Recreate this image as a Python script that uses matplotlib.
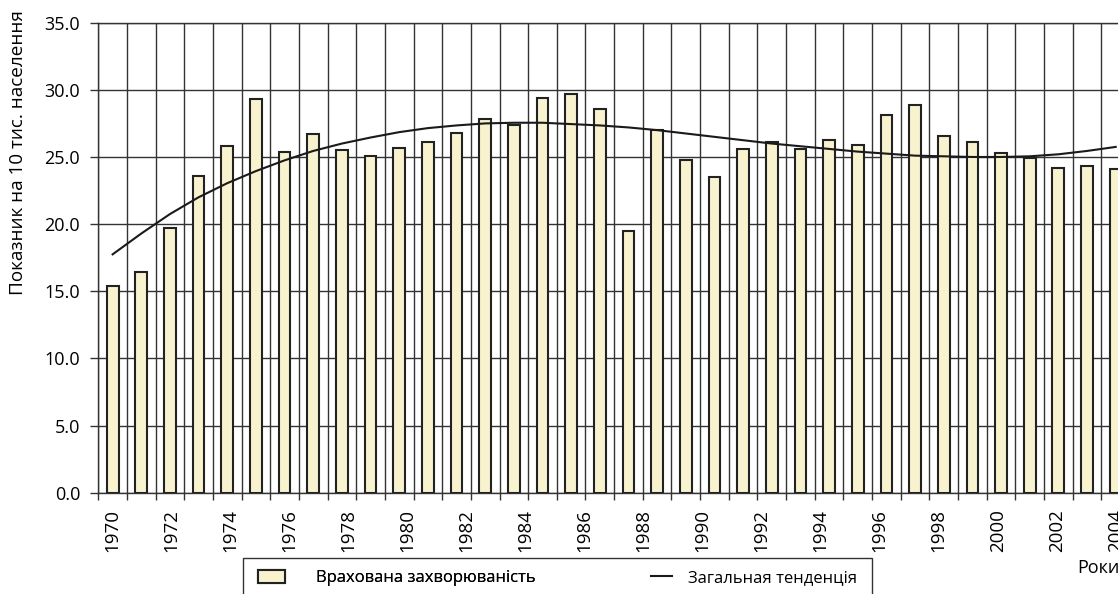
import matplotlib
matplotlib.use("Agg")
import matplotlib.pyplot as plt
import numpy as np
from matplotlib.lines import Line2D
from matplotlib.patches import Patch, Rectangle

plt.rcParams["font.family"] = ["Open Sans", "DejaVu Sans"]

# ---------------------------------------------------------------------------
# Data
# ---------------------------------------------------------------------------
years = list(range(1970, 2006))
incidence = [
    15.4, 16.4, 19.7, 23.6, 25.8, 29.3, 25.4, 26.7, 25.5, 25.1,
    25.7, 26.1, 26.8, 27.8, 27.4, 29.4, 29.7, 28.6, 19.5, 27.0,
    24.8, 23.5, 25.6, 26.1, 25.6, 26.3, 25.9, 28.1, 28.9, 26.6,
    26.1, 25.3, 24.9, 24.2, 24.3, 24.1,
]
trend = [
    17.75, 19.3, 20.75, 22.0, 23.05, 23.95, 24.75, 25.45, 26.0, 26.45,
    26.85, 27.15, 27.35, 27.5, 27.55, 27.55, 27.45, 27.35, 27.2, 27.0,
    26.75, 26.5, 26.25, 26.0, 25.8, 25.6, 25.4, 25.25, 25.1, 25.05,
    25.0, 25.0, 25.05, 25.2, 25.45, 25.75,
]
tick_years = list(range(1970, 2005, 2))
y_ticks = [0, 5, 10, 15, 20, 25, 30, 35]

BAR_LABEL = "Врахована захворюваність"
TREND_LABEL = "Загальная тенденція"
Y_LABEL = "Показник на 10 тис. населення"
X_LABEL = "Роки"

BAR_FILL = "#F8F2CE"
EDGE = "#222222"
GRID = "#333333"

# ---------------------------------------------------------------------------
# Figure
# ---------------------------------------------------------------------------
W, H = 1118, 594
fig = plt.figure(figsize=(W / 100, H / 100), dpi=100)
ax = fig.add_axes([98.3 / W, 1 - 492.7 / H, (1130 - 98.3) / W, (492.7 - 22.7) / H])

x = np.arange(len(years))
ax.bar(x, incidence, width=0.41, color=BAR_FILL, edgecolor=EDGE,
       linewidth=1.5, zorder=3)
ax.plot(x, trend, color="#1a1a1a", linewidth=1.5, zorder=4)

ax.set_xlim(-0.5, len(years) - 0.5)
ax.set_ylim(0, 35)

# y axis
ax.set_yticks(y_ticks)
ax.set_yticklabels([f"{v:.1f}" for v in y_ticks])
ax.tick_params(axis="y", length=6, width=1.0, color=GRID, pad=7, labelsize=13)

# x axis: boundary ticks + year labels spread over the whole axis
ax.set_xticks(np.arange(len(years) + 1) - 0.5, minor=True)
ax.set_xticks(np.linspace(0, len(years) - 1, len(tick_years)))
ax.set_xticklabels([str(y) for y in tick_years], rotation=90)
ax.tick_params(axis="x", which="major", length=0, pad=12, labelsize=13.5)
ax.tick_params(axis="x", which="minor", length=5, width=1.0, color=GRID)

ax.set_axisbelow(True)
ax.grid(axis="y", which="major", color=GRID, linewidth=1.0)
ax.grid(axis="x", which="minor", color=GRID, linewidth=1.0)
for side in ["left", "bottom", "top", "right"]:
    ax.spines[side].set_color(GRID)
    ax.spines[side].set_linewidth(1.0)

fig.text(18 / W, 1 - 153 / H, Y_LABEL, rotation=90, ha="center", va="center",
         fontsize=13.6)
fig.text(1077 / W, 1 - 568 / H, X_LABEL, ha="left", va="center", fontsize=13)

# legend box (runs off the bottom of the picture)
fig.add_artist(Rectangle((243 / W, -0.1), (872 - 243) / W, 0.1 + (594 - 558) / H,
                         transform=fig.transFigure, fill=False,
                         edgecolor=GRID, linewidth=1.0))
bar_handle = Patch(facecolor=BAR_FILL, edgecolor=EDGE, linewidth=1.5,
                   label=BAR_LABEL)
line_handle = Line2D([], [], color="#1a1a1a", linewidth=1.5, label=TREND_LABEL)

leg1 = fig.legend(handles=[bar_handle], loc="center left",
                  bbox_to_anchor=(258 / W, 1 - 578 / H), frameon=False,
                  fontsize=12, handlelength=1.6, handleheight=0.8,
                  handletextpad=1.9, borderpad=0, borderaxespad=0)
fig.add_artist(leg1)
fig.legend(handles=[line_handle], loc="center left",
           bbox_to_anchor=(651 / W, 1 - 578 / H), frameon=False,
           fontsize=12, handlelength=1.25, handletextpad=1.0,
           borderpad=0, borderaxespad=0)

fig.savefig("out.png", dpi=100)
